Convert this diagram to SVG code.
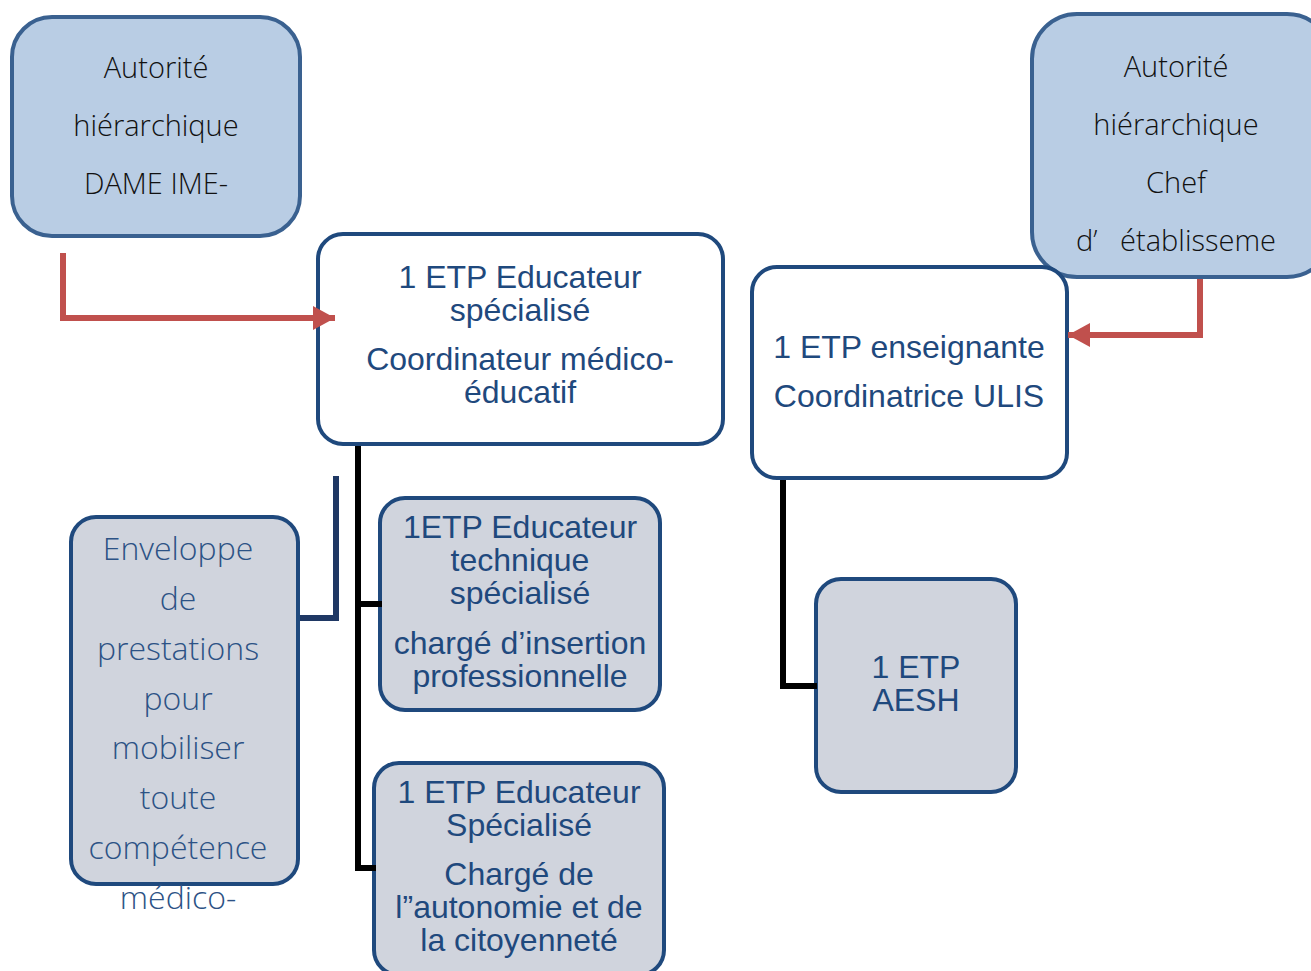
<svg xmlns="http://www.w3.org/2000/svg" width="1311" height="971" viewBox="0 0 1311 971">
<defs>
<style>
.auth{fill:#b9cde4;stroke:#3a6190;stroke-width:4}
.white{fill:#ffffff;stroke:#1f497d;stroke-width:4}
.grey{fill:#d0d4dd;stroke:#1f497d;stroke-width:4}
.lt{font-family:"Open Sans","Lato",sans-serif;font-weight:300;font-size:29px;fill:#111;text-anchor:middle;white-space:pre}
.lb{font-family:"Open Sans","Lato",sans-serif;font-weight:300;font-size:32px;fill:#2c5285;text-anchor:middle}
.ar{font-family:"Liberation Sans",Arial,sans-serif;font-size:32px;fill:#1f497d;text-anchor:middle}
.red{fill:none;stroke:#c0504d;stroke-width:6}
.blk{fill:none;stroke:#000;stroke-width:6}
.navy{fill:none;stroke:#1f3864;stroke-width:6}
</style>
<marker id="ah" markerUnits="userSpaceOnUse" markerWidth="26" markerHeight="26" refX="22" refY="13" orient="auto">
<path d="M0,1 L22,13 L0,25 Z" fill="#c0504d"/>
</marker>
</defs>
<g id="auth-left">
<rect class="auth" x="12" y="17" width="288" height="219" rx="40"/>
<text class="lt" x="156" y="78">Autorité</text>
<text class="lt" x="156" y="136">hiérarchique</text>
<text class="lt" x="156" y="194">DAME IME-</text>
</g>
<g id="auth-right">
<rect class="auth" x="1032" y="14" width="300" height="263" rx="45"/>
<text class="lt" x="1176" y="77">Autorité</text>
<text class="lt" x="1176" y="135">hiérarchique</text>
<text class="lt" x="1176" y="193">Chef</text>
<text class="lt" x="1176" y="251" xml:space="preserve">d’   établisseme</text>
</g>
<g id="coord-medico">
<rect class="white" x="318" y="234" width="405" height="210" rx="25"/>
<text class="ar" x="520" y="288">1 ETP Educateur</text>
<text class="ar" x="520" y="321">spécialisé</text>
<text class="ar" x="520" y="370">Coordinateur médico-</text>
<text class="ar" x="520" y="403">éducatif</text>
</g>
<g id="coord-ulis">
<rect class="white" x="752" y="267" width="315" height="211" rx="25"/>
<text class="ar" x="909" y="358">1 ETP enseignante</text>
<text class="ar" x="909" y="407">Coordinatrice ULIS</text>
</g>
<g id="aesh">
<rect class="grey" x="816" y="579" width="200" height="213" rx="25"/>
<text class="ar" x="916" y="678">1 ETP</text>
<text class="ar" x="916" y="711">AESH</text>
</g>
<g id="educ-tech">
<rect class="grey" x="380" y="498" width="280" height="212" rx="25"/>
<text class="ar" x="520" y="538">1ETP Educateur</text>
<text class="ar" x="520" y="571">technique</text>
<text class="ar" x="520" y="604">spécialisé</text>
<text class="ar" x="520" y="654">chargé d’insertion</text>
<text class="ar" x="520" y="687">professionnelle</text>
</g>
<g id="educ-spec">
<rect class="grey" x="374" y="763" width="290" height="212" rx="25"/>
<text class="ar" x="519" y="803">1 ETP Educateur</text>
<text class="ar" x="519" y="836">Spécialisé</text>
<text class="ar" x="519" y="885">Chargé de</text>
<text class="ar" x="519" y="918">l”autonomie et de</text>
<text class="ar" x="519" y="951">la citoyenneté</text>
</g>
<g id="enveloppe">
<rect class="grey" x="71" y="517" width="227" height="367" rx="25"/>
<text class="lb" x="178" y="560">Enveloppe</text>
<text class="lb" x="178" y="610">de</text>
<text class="lb" x="178" y="660">prestations</text>
<text class="lb" x="178" y="710">pour</text>
<text class="lb" x="178" y="759">mobiliser</text>
<text class="lb" x="178" y="809">toute</text>
<text class="lb" x="178" y="859">compétence</text>
<text class="lb" x="178" y="909">médico-</text>
</g>
<g id="connectors">
<path class="red" d="M63,253 V318 H335" marker-end="url(#ah)"/>
<path class="red" d="M1200,279 V335 H1068" marker-end="url(#ah)"/>
<path class="blk" d="M358,446 V868 H376 M358,604 H382"/>
<path class="blk" d="M783,480 V686 H817"/>
<path class="navy" d="M300,618 H336 V476"/>
</g>
</svg>
